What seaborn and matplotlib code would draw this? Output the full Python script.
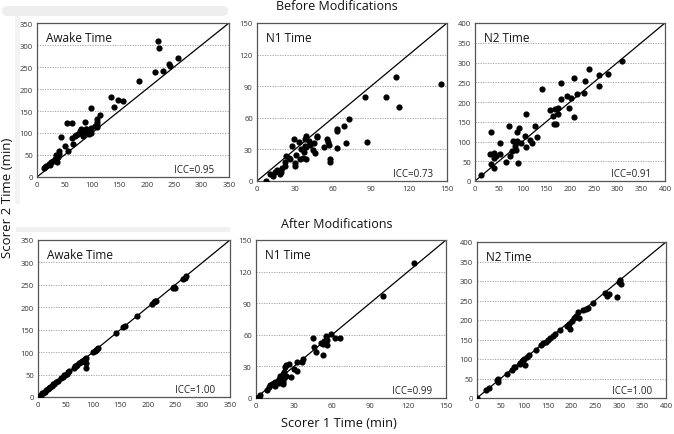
import matplotlib
matplotlib.use("Agg")
import matplotlib.pyplot as plt
from matplotlib.patches import FancyBboxPatch, Rectangle
import seaborn as sns
import pandas as pd

# ---------------- data ----------------
awake_before_x = [221, 223, 215, 230, 240, 242, 257, 186, 134, 147, 157, 140, 99, 115, 110, 110, 110, 109,
                  98, 98, 88, 89, 82, 80, 75, 69, 63, 55, 63, 66, 44, 51, 57, 41, 41, 35, 32, 37, 29, 26,
                  17, 13, 21, 85, 92, 78, 95, 72, 84, 90, 105, 38, 34, 23, 15]
awake_before_y = [308, 294, 238, 242, 257, 253, 271, 219, 181, 175, 172, 159, 157, 141, 132, 125, 119, 113,
                  112, 101, 125, 108, 102, 110, 98, 94, 122, 122, 88, 74, 90, 70, 60, 60, 53, 49, 42, 34, 36, 33,
                  26, 20, 29, 100, 105, 104, 97, 96, 94, 110, 116, 45, 38, 27, 22]

n1_before_x = [145, 110, 102, 112, 85, 87, 73, 69, 70, 63, 63, 63, 55, 56, 57, 58, 58, 53, 47, 45, 46, 42,
               38, 39, 41, 38, 37, 36, 39, 34, 31, 30, 30, 29, 28, 26, 23, 22, 22, 19, 18, 14, 13, 10, 7,
               39, 47, 35, 33, 44, 25, 20, 16]
n1_before_y = [92, 99, 80, 70, 80, 37, 59, 52, 36, 49, 47, 31, 40, 37, 34, 21, 18, 32, 42, 36, 27, 34,
               40, 43, 38, 33, 28, 22, 21, 21, 25, 17, 14, 40, 33, 21, 24, 18, 14, 9, 7, 9, 5, 7, 0,
               32, 43, 30, 37, 29, 22, 12, 10]

n2_before_x = [310, 281, 261, 261, 241, 232, 230, 214, 208, 209, 198, 202, 193, 181, 182, 141, 157, 168,
               175, 174, 164, 166, 171, 107, 127, 130, 120, 115, 105, 108, 97, 93, 88, 89, 80, 84, 86, 91,
               77, 71, 73, 65, 52, 53, 45, 34, 31, 39, 40, 33, 40, 12]
n2_before_y = [304, 271, 241, 268, 283, 254, 222, 220, 260, 162, 186, 209, 216, 207, 248, 233, 180, 182,
               186, 169, 165, 144, 144, 169, 140, 112, 97, 104, 114, 86, 95, 135, 124, 101, 101, 89, 79, 45,
               76, 140, 63, 48, 68, 97, 63, 123, 68, 72, 57, 42, 34, 14]

awake_after_x = [3, 5, 8, 10, 12, 15, 18, 20, 22, 25, 28, 30, 33, 36, 42, 45, 48, 50, 52, 55, 57, 65, 68, 70,
                 72, 75, 78, 80, 83, 85, 88, 100, 103, 105, 108, 110, 143, 155, 158, 181, 208, 211, 213,
                 215, 246, 248, 250, 265, 268, 270, 87, 88, 85]
awake_after_y = [3, 5, 8, 10, 12, 15, 18, 20, 22, 25, 28, 30, 33, 36, 42, 45, 48, 50, 52, 55, 57, 65, 68, 70,
                 72, 75, 78, 80, 83, 85, 88, 100, 103, 105, 108, 110, 143, 155, 158, 181, 208, 211, 213,
                 215, 244, 245, 244, 262, 266, 269, 64, 76, 85]

n1_after_x = [124.5, 100, 59, 66, 62, 55, 56, 54, 56, 53, 51, 53, 45, 46, 47, 37, 36, 32, 32, 30, 28, 26,
              24, 23, 22, 21, 19, 18, 17, 15, 14, 13, 11, 10, 9, 15, 18, 21, 22, 24, 3, 1, 2, 19, 21]
n1_after_y = [128, 96.5, 61, 57, 57, 59, 55, 54, 50, 51, 52, 41, 57, 48, 44, 37, 34, 34, 26, 28, 20, 32,
              31, 29, 25, 23, 21, 18, 16, 15, 14, 13, 12, 10, 8, 11, 14, 15, 19, 21, 3, 0, 1, 17, 13]

n2_after_x = [0, 20, 25, 43, 45, 63, 75, 78, 80, 90, 95, 98, 100, 105, 110, 125, 135, 140, 145, 150, 155,
              160, 165, 175, 190, 195, 200, 205, 210, 215, 225, 230, 235, 245, 270, 275, 280, 300, 302,
              305, 297, 101, 214, 197, 44, 92]
n2_after_y = [0, 20, 25, 46, 50, 62, 72, 80, 80, 91, 95, 97, 100, 104, 110, 124, 135, 140, 144, 150, 155,
              160, 165, 175, 185, 190, 198, 205, 210, 205, 225, 228, 232, 243, 268, 262, 266, 298, 302,
              293, 258, 85, 221, 177, 42, 86]

panels = [
    ("Awake Time", awake_before_x, awake_before_y, 350, 50, "ICC=0.95"),
    ("N1 Time", n1_before_x, n1_before_y, 150, 30, "ICC=0.73"),
    ("N2 Time", n2_before_x, n2_before_y, 400, 50, "ICC=0.91"),
    ("Awake Time", awake_after_x, awake_after_y, 350, 50, "ICC=1.00"),
    ("N1 Time", n1_after_x, n1_after_y, 150, 30, "ICC=0.99"),
    ("N2 Time", n2_after_x, n2_after_y, 400, 50, "ICC=1.00"),
]

# ---------------- style ----------------
sns.set_style("white")
plt.rcParams['font.family'] = ['Open Sans', 'DejaVu Sans']

W, H = 674, 435
fig = plt.figure(figsize=(W / 100, H / 100), dpi=100)

def px_rect(l, t, r, b, **kw):
    return Rectangle((l / W, 1 - b / H), (r - l) / W, (b - t) / H, transform=fig.transFigure, **kw)

# faint grey scan artifacts from the source figure
fig.patches.append(FancyBboxPatch((2 / W, 1 - 17 / H), 226 / W, 10 / H,
                                  boxstyle="round,pad=0,rounding_size=0.01",
                                  transform=fig.transFigure, facecolor="#eeeeee", edgecolor="none"))
fig.patches.append(px_rect(15, 17, 20, 205, facecolor="#f3f3f3", edgecolor="none"))
fig.patches.append(px_rect(16, 228, 230, 233, facecolor="#f1f1f1", edgecolor="none"))

# axes boxes in pixel coordinates (left, top, right, bottom)
boxes = [
    (37, 24, 229, 178), (257, 24, 447, 182), (475, 24, 665, 182),
    (38, 241, 230, 398), (256, 241, 446, 399), (477, 243, 666, 399),
]

for (title, xs, ys, lim, step, icc), (l, t, r, b) in zip(panels, boxes):
    ax = fig.add_axes([l / W, 1 - b / H, (r - l) / W, (b - t) / H])
    df = pd.DataFrame({"x": xs, "y": ys})
    ax.axline((0, 0), slope=1, color="black", lw=0.9, zorder=2)
    sns.scatterplot(data=df, x="x", y="y", ax=ax, color="black", s=20,
                    edgecolor="black", linewidth=0, zorder=3)
    ax.set_xlim(0, lim)
    ax.set_ylim(0, lim)
    ticks = list(range(0, lim + 1, step))
    ax.set_xticks(ticks)
    ax.set_yticks(ticks)
    ax.tick_params(axis="both", length=0, labelsize=5.5, colors="#333333", pad=3)
    for yv in ticks[1:-1]:
        ax.axhline(yv, color="#9a9a9a", lw=0.6, ls=(0, (1.5, 1.5)), zorder=1)
    for sp in ax.spines.values():
        sp.set_color("#555555")
        sp.set_linewidth(0.9)
    ax.set_xlabel("")
    ax.set_ylabel("")
    ax.text(0.045, 0.95, title, transform=ax.transAxes, ha="left", va="top",
            fontsize=8.5, color="#111111")
    ax.text(0.925, 0.015, icc, transform=ax.transAxes, ha="right", va="bottom",
            fontsize=7, color="#222222")

fig.text(337 / W, 1 - 7 / H, "Before Modifications", ha="center", va="center", fontsize=9, color="#111111")
fig.text(337 / W, 1 - 225 / H, "After Modifications", ha="center", va="center", fontsize=9, color="#111111")
fig.text(339 / W, 1 - 424 / H, "Scorer 1 Time (min)", ha="center", va="center", fontsize=9.2, color="#111111")
fig.text(8 / W, 1 - 198 / H, "Scorer 2 Time (min)", ha="center", va="center", rotation=90,
         fontsize=9.5, color="#111111")

fig.savefig("out.png", dpi=100)
